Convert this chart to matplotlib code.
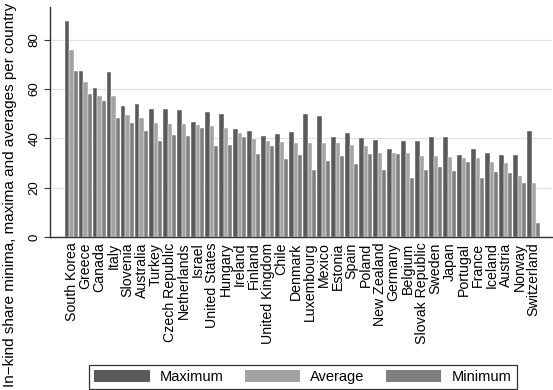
import numpy as np
import matplotlib
matplotlib.use('Agg')
import matplotlib.pyplot as plt

plt.rcParams['font.family'] = ['Liberation Sans', 'DejaVu Sans']

countries = ['South Korea', 'Greece', 'Canada', 'Italy', 'Slovenia', 'Australia', 'Turkey',
             'Czech Republic', 'Netherlands', 'Israel', 'United States', 'Hungary', 'Ireland',
             'Finland', 'United Kingdom', 'Chile', 'Denmark', 'Luxembourg', 'Mexico', 'Estonia',
             'Spain', 'Poland', 'New Zealand', 'Germany', 'Belgium', 'Slovak Republic', 'Sweden',
             'Japan', 'Portugal', 'France', 'Iceland', 'Austria', 'Norway', 'Switzerland']
maximum = [87.7, 67.3, 60.6, 66.9, 53.3, 54.0, 51.8, 51.8, 51.6, 46.8, 50.8, 49.7, 44.0,
           43.2, 40.9, 41.6, 42.5, 49.8, 49.0, 40.6, 42.0, 40.1, 39.5, 35.5, 39.1, 39.1, 40.7,
           40.7, 33.4, 35.9, 34.2, 33.4, 33.2, 42.9]
average = [75.8, 62.8, 57.3, 57.0, 49.3, 48.1, 46.3, 45.9, 45.8, 45.5, 45.1, 44.3, 42.2,
           39.9, 39.1, 38.6, 38.3, 38.3, 38.3, 38.0, 37.2, 37.0, 34.2, 34.2, 34.0, 32.9, 32.8,
           32.4, 32.1, 31.9, 30.3, 30.1, 24.6, 21.8]
minimum = [67.4, 58.2, 55.2, 48.1, 46.3, 42.8, 39.0, 41.3, 40.9, 44.3, 37.0, 37.5, 40.5,
           33.6, 37.0, 31.8, 33.2, 27.3, 30.7, 32.9, 29.6, 33.6, 27.1, 33.6, 23.8, 27.1, 28.6,
           26.9, 30.6, 24.1, 26.4, 25.9, 21.8, 5.6]
series_names = ['Maximum', 'Average', 'Minimum']
colors = ['#5a5a5a', '#a3a3a3', '#7e7e7e']

fig = plt.figure(figsize=(5.53, 3.9), dpi=100)
ax = fig.add_axes([0.0904, 0.3923, 0.9078, 0.591])

x = np.arange(len(countries))
w = 0.3
for k, (vals, name, c) in enumerate(zip([maximum, average, minimum], series_names, colors)):
    ax.bar(x + (k - 1) * w, vals, width=w, color=c, edgecolor='white', linewidth=0.3, label=name, zorder=2)

ax.set_xlim(-1.54, 34.3)
ax.set_ylim(0, 93.5)
ax.set_yticks([0, 20, 40, 60, 80])
ax.tick_params(axis='y', labelsize=9.5, labelrotation=90, length=4, color='#333333', pad=3)
for lbl in ax.get_yticklabels():
    lbl.set_va('center')
ax.set_xticks(x)
ax.set_xticklabels(countries, rotation=90, fontsize=10.2)
ax.tick_params(axis='x', length=0, pad=4)
ax.yaxis.grid(True, color='#e2e2e2', linewidth=0.9, zorder=0)
ax.set_axisbelow(True)
for side in ['top', 'right']:
    ax.spines[side].set_visible(False)
for side in ['left', 'bottom']:
    ax.spines[side].set_color('#333333')
    ax.spines[side].set_linewidth(1.0)

# y label placed in figure coords so that it spans the full height like the original
ylab = fig.text(10 / 553, 1 - 194.5 / 390, 'In\u2212kind share minima, maxima and averages per country',
                rotation=90, ha='center', va='center', fontsize=10)
fig.canvas.draw()
ext = ylab.get_window_extent(fig.canvas.get_renderer())
ylab.set_fontsize(10 * 385 / ext.height)

leg = fig.legend(loc='lower left', bbox_to_anchor=(0.161, 0.003), ncol=3,
                 fontsize=10.5, handlelength=3.8, handleheight=0.9, frameon=True, fancybox=False,
                 borderaxespad=0, columnspacing=1.45, handletextpad=0.7, borderpad=0.35)
leg.get_frame().set_edgecolor('black')
leg.get_frame().set_linewidth(0.9)
for h in leg.legend_handles:
    h.set_edgecolor('none')

fig.savefig('out.png', dpi=100)
